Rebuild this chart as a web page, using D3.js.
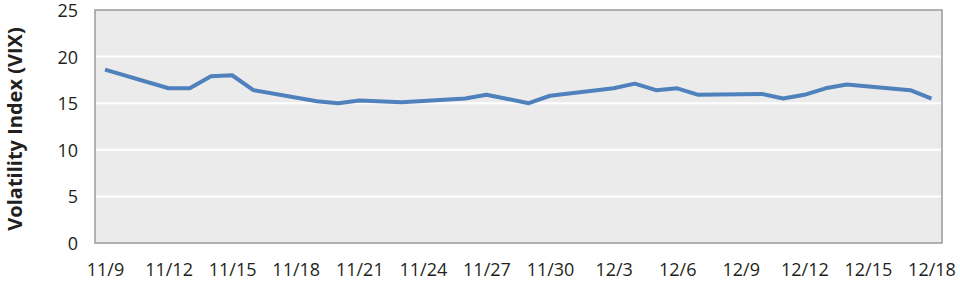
<!DOCTYPE html>
<html>
<head>
<meta charset="utf-8">
<title>VIX</title>
<style>
  body { margin: 0; background: #fff; }
  text { font-family: "Open Sans", sans-serif; fill: #231f20; }
</style>
</head>
<body>
<main></main>
<script src="https://cdn.jsdelivr.net/npm/d3@7"></script>
<script>
// data
var dates = ["2012-11-09", "2012-11-12", "2012-11-13", "2012-11-14", "2012-11-15", "2012-11-16",
             "2012-11-19", "2012-11-20", "2012-11-21", "2012-11-23", "2012-11-26", "2012-11-27",
             "2012-11-28", "2012-11-29", "2012-11-30", "2012-12-03", "2012-12-04", "2012-12-05",
             "2012-12-06", "2012-12-07", "2012-12-10", "2012-12-11", "2012-12-12", "2012-12-13",
             "2012-12-14", "2012-12-17", "2012-12-18"];
var vix = [18.6, 16.6, 16.6, 17.9, 18.0, 16.4,
           15.2, 15.0, 15.3, 15.1, 15.5, 15.9,
           15.45, 15.0, 15.8, 16.6, 17.1, 16.4,
           16.6, 15.9, 16.0, 15.5, 15.9, 16.6,
           17.0, 16.4, 15.5];
var xTickLabels = ["11/9", "11/12", "11/15", "11/18", "11/21", "11/24", "11/27",
                   "11/30", "12/3", "12/6", "12/9", "12/12", "12/15", "12/18"];
var yTicks = [0, 5, 10, 15, 20, 25];

var width = 960, height = 282;
var plotL = 95, plotR = 942, plotT = 10, plotB = 243;

var svg = d3.select("main").append("svg")
    .attr("width", width).attr("height", height);

var parse = d3.timeParse("%Y-%m-%d");
var data = dates.map(function (d, i) { return { date: parse(d), v: vix[i] }; });

var x = d3.scaleTime()
    .domain([parse("2012-11-09"), parse("2012-12-18")])
    .range([105, 931.5]);
var y = d3.scaleLinear().domain([0, 25]).range([plotB, plotT]);

// plot background
svg.append("rect")
    .attr("x", plotL).attr("y", plotT)
    .attr("width", plotR - plotL).attr("height", plotB - plotT)
    .attr("fill", "#ebebeb");

// gridlines
svg.append("g").selectAll("line")
    .data(yTicks.filter(function (t) { return t > 0 && t < 25; }))
    .enter().append("line")
    .attr("x1", plotL).attr("x2", plotR)
    .attr("y1", function (d) { return y(d); })
    .attr("y2", function (d) { return y(d); })
    .attr("stroke", "#fff").attr("stroke-width", 2);

// border
svg.append("rect")
    .attr("x", plotL).attr("y", plotT)
    .attr("width", plotR - plotL).attr("height", plotB - plotT)
    .attr("fill", "none").attr("stroke", "#9a9a9a").attr("stroke-width", 1.5);

// y axis
var yAxis = d3.axisLeft(y).tickValues(yTicks).tickSize(0).tickPadding(0);
svg.append("g")
    .attr("transform", "translate(78,0)")
    .call(yAxis)
    .call(function (g) { g.select(".domain").remove(); })
    .selectAll("text")
    .attr("font-size", 18).attr("dy", "0.36em")
    .style("font-family", "'Open Sans', sans-serif").style("fill", "#231f20");

// x axis
var xTickDates = xTickLabels.map(function (s) {
    var p = s.split("/");
    return new Date(2012, +p[0] - 1, +p[1]);
});
var xAxis = d3.axisBottom(x).tickValues(xTickDates).tickSize(0).tickPadding(0)
    .tickFormat(function (d, i) { return xTickLabels[i]; });
svg.append("g")
    .attr("transform", "translate(0,270)")
    .call(xAxis)
    .call(function (g) { g.select(".domain").remove(); })
    .selectAll("text")
    .attr("font-size", 18).attr("dy", "0.36em")
    .style("font-family", "'Open Sans', sans-serif").style("fill", "#231f20");

// y title
svg.append("text")
    .attr("transform", "translate(22,129) rotate(-90)")
    .attr("text-anchor", "middle")
    .attr("font-size", 20).attr("font-weight", "bold")
    .text("Volatility Index (VIX)");

// line
var line = d3.line()
    .x(function (d) { return x(d.date); })
    .y(function (d) { return y(d.v); });
svg.append("path")
    .datum(data)
    .attr("d", line)
    .attr("fill", "none")
    .attr("stroke", "#4f81bd")
    .attr("stroke-width", 4)
    .attr("stroke-linejoin", "round");
</script>
</body>
</html>
